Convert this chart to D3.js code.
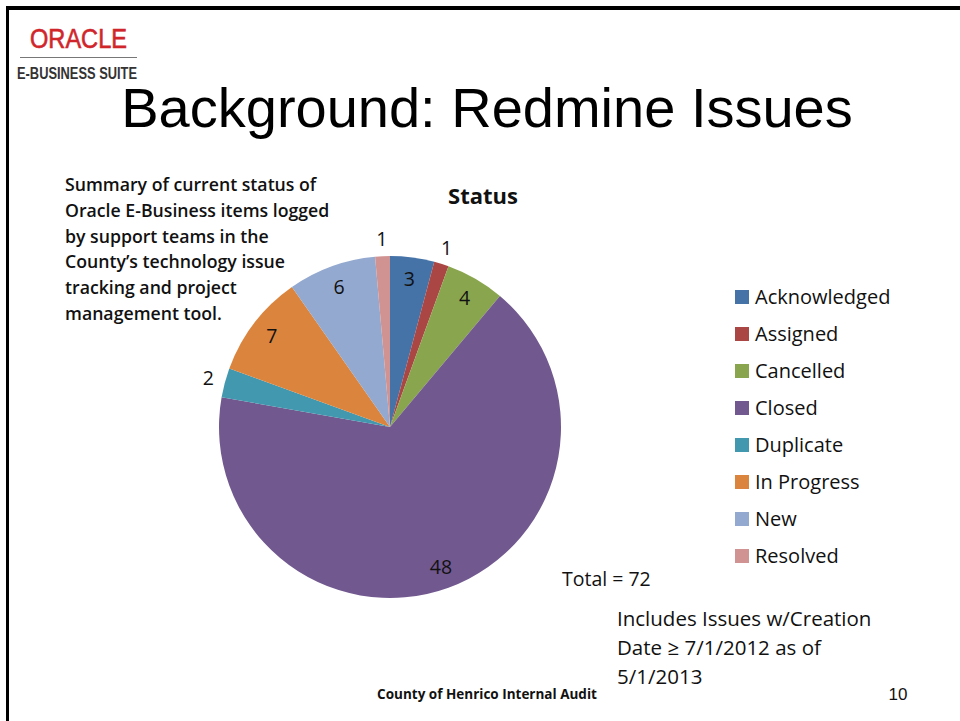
<!DOCTYPE html>
<html>
<head>
<meta charset="utf-8">
<script src="https://cdn.jsdelivr.net/npm/d3@7"></script>
<style>
  body { margin: 0; background: #fff; }
  svg { display: block; }
  text { font-family: 'Open Sans', Lato, sans-serif; fill: #111; }
</style>
</head>
<body>
<script>
// data
const statuses = ['Acknowledged', 'Assigned', 'Cancelled', 'Closed', 'Duplicate', 'In Progress', 'New', 'Resolved']
const counts = [3, 1, 4, 48, 2, 7, 6, 1]
const colors = ['#4572A7', '#AA4643', '#89A54E', '#71588F', '#4198AF', '#DB843D', '#93A9CF', '#D19392']

const heading = 'Background: Redmine Issues'
const chartTitle = 'Status'
const summaryLines = [
  'Summary of current status of',
  'Oracle E-Business items logged',
  'by support teams in the',
  'County\u2019s technology issue',
  'tracking and project',
  'management tool.'
]
const noteLines = ['Includes Issues w/Creation', 'Date \u2265 7/1/2012 as of', '5/1/2013']
const footer = 'County of Henrico Internal Audit'
const pageNo = '10'

const width = 960
const height = 721
const cx = 390
const cy = 427
const radius = 171

const svg = d3.select('body')
  .append('svg')
  .attr('width', width)
  .attr('height', height)

// slide frame (only top/left visible)
svg.append('rect')
  .attr('x', 0).attr('y', 0)
  .attr('width', width).attr('height', height)
  .attr('fill', '#fff')
svg.append('line')
  .attr('x1', 7.5).attr('x2', 7.5).attr('y1', 6).attr('y2', height)
  .attr('stroke', '#000').attr('stroke-width', 3)
svg.append('line')
  .attr('x1', 6).attr('x2', width).attr('y1', 8).attr('y2', 8)
  .attr('stroke', '#000').attr('stroke-width', 4)

// logo
const logo = svg.append('g')
logo.append('text')
  .attr('x', 30).attr('y', 48)
  .style('font-family', 'Liberation Sans, Arial, sans-serif')
  .style('font-size', '27px')
  .style('fill', '#d0262b')
  .style('stroke', '#d0262b')
  .style('stroke-width', 0.6)
  .attr('textLength', 97)
  .attr('lengthAdjust', 'spacingAndGlyphs')
  .text('ORACLE')
logo.append('line')
  .attr('x1', 20).attr('x2', 137).attr('y1', 57.5).attr('y2', 57.5)
  .attr('stroke', '#777').attr('stroke-width', 1)
logo.append('text')
  .attr('x', 17).attr('y', 79)
  .style('font-family', 'Liberation Sans Narrow, Liberation Sans, Arial, sans-serif')
  .style('font-size', '17px')
  .style('font-weight', 'bold')
  .style('fill', '#333')
  .attr('textLength', 120)
  .attr('lengthAdjust', 'spacingAndGlyphs')
  .text('E-BUSINESS SUITE')

// heading
svg.append('text')
  .attr('x', 487).attr('y', 127)
  .attr('text-anchor', 'middle')
  .style('font-family', 'Liberation Sans, Arial, sans-serif')
  .style('font-size', '56px')
  .style('fill', '#000')
  .text(heading)

// summary text
svg.append('g')
  .selectAll('text')
  .data(summaryLines)
  .enter()
  .append('text')
  .attr('x', 65)
  .attr('y', (d, i) => 191 + i * 25.8)
  .style('font-size', '17.7px')
  .style('font-weight', '600')
  .text(d => d)

// chart title
svg.append('text')
  .attr('x', 483).attr('y', 204)
  .attr('text-anchor', 'middle')
  .style('font-size', '22px')
  .style('font-weight', 'bold')
  .text(chartTitle)

// pie
const slices = statuses.map((s, i) => ({ status: s, count: counts[i], color: colors[i] }))
const pie = d3.pie().sort(null).value(d => d.count)
const arcs = pie(slices)
const arc = d3.arc().innerRadius(0).outerRadius(radius)
const inLabel = d3.arc().innerRadius(149).outerRadius(149)
const outLabel = d3.arc().innerRadius(188).outerRadius(188)

const main = svg.append('g')
  .attr('transform', `translate(${cx}, ${cy})`)

main.selectAll('path')
  .data(arcs)
  .enter()
  .append('path')
  .attr('d', arc)
  .attr('fill', d => d.data.color)

main.selectAll('text.lbl')
  .data(arcs)
  .enter()
  .append('text')
  .attr('class', 'lbl')
  .attr('transform', d => {
    const small = d.data.count <= 2
    const [x, y] = (small ? outLabel : inLabel).centroid(d)
    return `translate(${x}, ${y})`
  })
  .attr('text-anchor', 'middle')
  .attr('dy', '0.35em')
  .style('font-size', '19.5px')
  .text(d => d.data.count)

// legend
const legend = svg.append('g')
  .attr('transform', 'translate(735, 297)')
const rows = legend.selectAll('g')
  .data(slices)
  .enter()
  .append('g')
  .attr('transform', (d, i) => `translate(0, ${i * 37})`)
rows.append('rect')
  .attr('x', 0).attr('y', -7)
  .attr('width', 14).attr('height', 14)
  .attr('fill', d => d.color)
rows.append('text')
  .attr('x', 20).attr('y', 0)
  .attr('dy', '0.35em')
  .style('font-size', '20px')
  .text(d => d.status)

// total + note
const total = d3.sum(counts)
svg.append('text')
  .attr('x', 562).attr('y', 586)
  .style('font-size', '19.5px')
  .text(`Total = ${total}`)

svg.append('g')
  .selectAll('text')
  .data(noteLines)
  .enter()
  .append('text')
  .attr('x', 617)
  .attr('y', (d, i) => 626 + i * 29)
  .style('font-size', '20.5px')
  .text(d => d)

// footer
svg.append('text')
  .attr('x', 487).attr('y', 699)
  .attr('text-anchor', 'middle')
  .style('font-size', '13.5px')
  .style('font-weight', 'bold')
  .text(footer)
svg.append('text')
  .attr('x', 898).attr('y', 700)
  .attr('text-anchor', 'middle')
  .style('font-family', 'Liberation Sans, Arial, sans-serif')
  .style('font-size', '17px')
  .text(pageNo)
</script>
</body>
</html>
